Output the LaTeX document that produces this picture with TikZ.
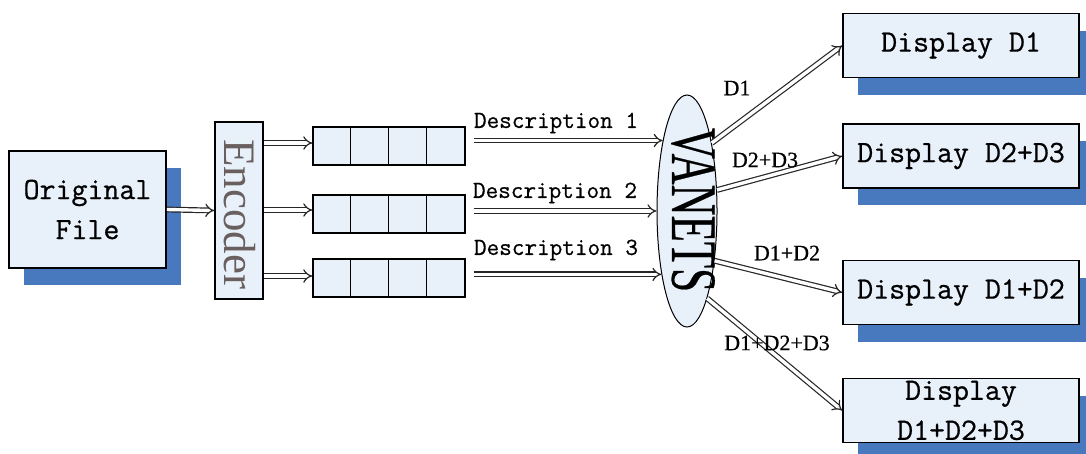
\documentclass[tikz,border=0pt]{standalone}
\usepackage{fontspec}
\setmainfont{Liberation Serif}
\newfontfamily\heavymono[FakeBold=0.7]{Latin Modern Mono}
\newfontfamily\heavyserif[FakeBold=0.5]{Liberation Serif}
\usetikzlibrary{arrows.meta,shapes.geometric,shadows}
\definecolor{boxfill}{RGB}{232,240,250}
\definecolor{shadowblue}{RGB}{72,120,190}
\definecolor{enctext}{RGB}{105,95,95}
\tikzset{
  box/.style={draw=black, line width=1.6pt, fill=boxfill, inner sep=0pt},
  shadowed/.style={drop shadow={shadow xshift=15pt, shadow yshift=-17pt,
      fill=shadowblue, opacity=1}},
  flow/.style={draw=black!85, double=white, double distance=3.4pt,
      line width=1.2pt, -{Implies[length=7pt, width=14pt]}},
  monotext/.style={font=\heavymono\fontsize{31}{40}\selectfont, align=center},
  desclabel/.style={font=\heavymono\fontsize{24.5}{28}\selectfont},
  dlabel/.style={font=\heavyserif\fontsize{22}{24}\selectfont},
  display/.style={box, shadowed, monotext, minimum width=236pt, minimum height=64pt},
  queue/.style={box, line width=1.4pt, minimum width=152pt, minimum height=38pt},
}
\begin{document}
\begin{tikzpicture}[x=1pt, y=-1pt]
  \useasboundingbox (0,0) rectangle (1086,453);
  \clip (0,0) rectangle (1086,453);

  % source file and encoder
  \node[box, shadowed, monotext, minimum width=157pt, minimum height=117pt]
    (orig) at (87.5,209.5) {Original\\File};
  \node[box, line width=1.4pt, minimum width=48pt, minimum height=177pt]
    (enc) at (239,210.5) {};
  \node[rotate=-90, text=enctext, font=\fontsize{45}{50}\selectfont]
    (enctxt) at (240,214) {Encoder};

  % three description queues
  \foreach \n/\y in {1/146, 2/214, 3/278} {
    \node[queue] (q\n) at (389,\y) {};
    \foreach \k in {1,2,3}
      \draw[line width=1.4pt] ([xshift=\k*38pt]q\n.south west) -- ([xshift=\k*38pt]q\n.north west);
  }

  % VANETS
  \node[draw=black, line width=1pt, fill=boxfill, ellipse,
        minimum width=60pt, minimum height=232pt, inner sep=0pt]
    (vanets) at (687,211) {};
  \node[rotate=-90, yscale=1.5, font=\heavyserif\fontsize{43}{46}\selectfont]
    (vtxt) at (693,210) {VANETS};

  % displays
  \node[display] (d1) at (961,45.5) {Display D1};
  \node[display] (d2) at (961,156) {Display D2+D3};
  \node[display] (d3) at (961,292.5) {Display D1+D2};
  \node[display] (d4) at (961,410.5) {Display\\D1+D2+D3};

  % arrows into and out of the encoder
  \draw[flow] (orig.east) -- (enc.west);
  \draw[flow] (enc.east |- 0,143) -- (q1.west |- 0,143);
  \draw[flow] (enc.east |- 0,210) -- (q2.west |- 0,210);
  \draw[flow] (enc.east |- 0,276) -- (q3.west |- 0,276);

  % descriptions sent over the network
  \draw[flow, shorten <=8pt] (q1.east |- vanets.109) -- (vanets.109);
  \draw[flow, shorten <=8pt] (q2.east |- vanets.west) -- (vanets.west);
  \draw[flow, shorten <=8pt] (q3.east |- vanets.248) -- (vanets.248);
  \node[desclabel] (l1) at (556,123) {Description 1};
  \node[desclabel] (l2) at (555,193) {Description 2};
  \node[desclabel] (l3) at (556,250) {Description 3};

  % received combinations
  \draw[flow] (vanets.70) -- (d1.west);
  \draw[flow] (vanets.35) -- (d2.west);
  \draw[flow] (vanets.299) -- (d3.west);
  \draw[flow] (vanets.283) -- (d4.west);
  \node[dlabel] (r1) at (737,88) {D1};
  \node[dlabel] (r2) at (765,160) {D2+D3};
  \node[dlabel] (r3) at (787,253) {D1+D2};
  \node[dlabel] (r4) at (777,343) {D1+D2+D3};
\end{tikzpicture}
\end{document}
